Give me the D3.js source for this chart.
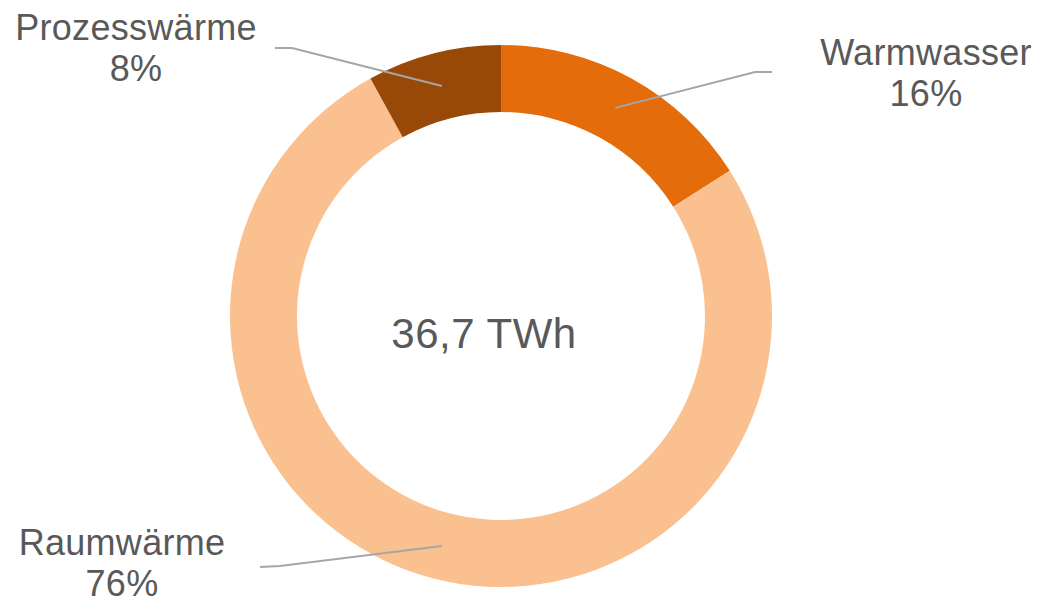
<!DOCTYPE html>
<html>
<head>
<meta charset="utf-8" />
<title>Wärmebedarf</title>
<style>
    body { margin: 0; background: #fff; }
    .label { font-family: "Liberation Sans", Arial, sans-serif; font-size: 36px; letter-spacing: 0.3px; fill: #595959; }
    .leader { fill: none; stroke: #a6a6a6; stroke-width: 2px; }
</style>
<script src="https://cdn.jsdelivr.net/npm/d3@7/dist/d3.min.js"></script>
</head>
<body>
<script>
// data
var categories = ['Warmwasser', 'Raumwärme', 'Prozesswärme'];
var shares = [16, 76, 8];
var colors = ['#e46c0a', '#fac090', '#984807'];
var centerText = '36,7 TWh';

// label layout: elbow point and text anchor (relative to chart centre)
var labelLayout = {
    'Warmwasser':   { bend: [254, -244], end: [271, -244], text: [425, -251] },
    'Raumwärme':    { bend: [-221, 250], end: [-241, 251], text: [-379, 239] },
    'Prozesswärme': { bend: [-209, -268], end: [-226, -268], text: [-365, -276] }
};

var width = 1041, height = 603;
var cx = 501, cy = 316;
var outerR = 271, innerR = 204;

var svg = d3.select('body').append('svg')
    .attr('width', width)
    .attr('height', height);

var g = svg.append('g')
    .attr('transform', 'translate(' + cx + ',' + cy + ')');

var data = categories.map(function(c, i) { return { name: c, value: shares[i], color: colors[i] }; });

var pie = d3.pie().sort(null).value(function(d) { return d.value; });
var arc = d3.arc().innerRadius(innerR).outerRadius(outerR);
var arcs = pie(data);

g.selectAll('path.slice')
    .data(arcs)
    .enter().append('path')
    .attr('class', 'slice')
    .attr('d', arc)
    .attr('fill', function(d) { return d.data.color; });

// leader lines
g.selectAll('polyline.leader')
    .data(arcs)
    .enter().append('polyline')
    .attr('class', 'leader')
    .attr('points', function(d) {
        var l = labelLayout[d.data.name];
        return [arc.centroid(d), l.bend, l.end].map(function(p) { return p.join(','); }).join(' ');
    });

// labels
var labels = g.selectAll('text.label')
    .data(arcs)
    .enter().append('text')
    .attr('class', 'label')
    .attr('text-anchor', 'middle')
    .attr('transform', function(d) {
        var l = labelLayout[d.data.name];
        return 'translate(' + l.text[0] + ',' + l.text[1] + ')';
    });

labels.append('tspan')
    .attr('x', 0)
    .text(function(d) { return d.data.name; });

labels.append('tspan')
    .attr('x', 0)
    .attr('dy', 41)
    .text(function(d) { return d.data.value + '%'; });

// centre text
g.append('text')
    .attr('class', 'label')
    .attr('text-anchor', 'middle')
    .attr('x', -17)
    .attr('y', 32)
    .style('font-size', '42px')
    .style('letter-spacing', '0.5px')
    .text(centerText);
</script>
</body>
</html>
